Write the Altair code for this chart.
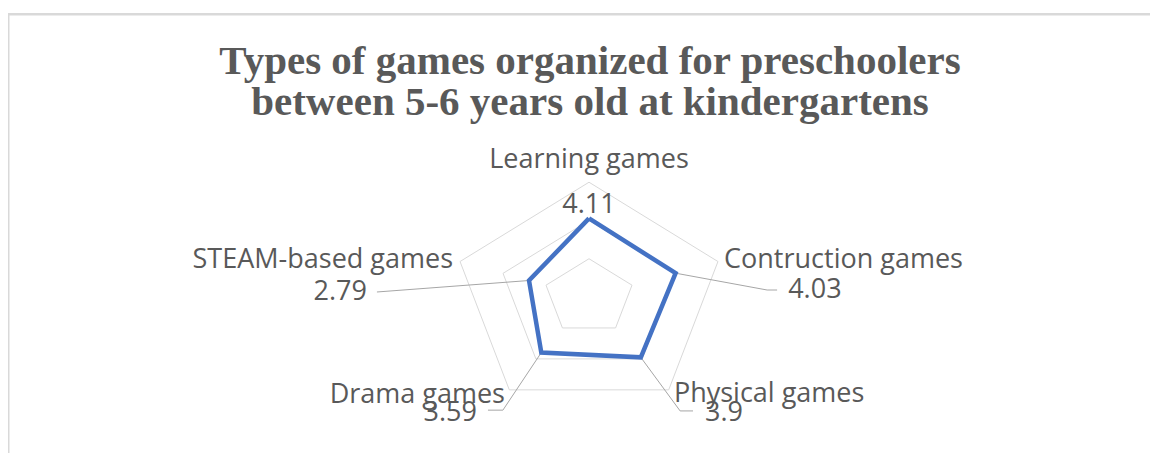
import math
import altair as alt
import pandas as pd

# ---------------- data ----------------
categories = ["Learning games", "Contruction games", "Physical games",
              "Drama games", "STEAM-based games"]
values = [4.11, 4.03, 3.9, 3.59, 2.79]
value_labels = ["4.11", "4.03", "3.9", "3.59", "2.79"]
ring_levels = [2, 4, 6]
title_lines = ["Types of games organized for preschoolers",
               "between 5-6 years old at kindergartens"]

# ---------------- layout ----------------
W, H = 1142, 445
CX, CY = 581, 289          # radar centre inside the view (px)
PX_X, PX_Y = 22.6, 19.13   # px per value unit (horizontal / vertical)
X_DOM = [-CX / PX_X, (W - CX) / PX_X]
Y_DOM = [-(H - CY) / PX_Y, CY / PX_Y]
R_MAX = max(ring_levels)

TEXT_COLOR = "#595959"
GRID_COLOR = "#d9d9d9"
LEADER_COLOR = "#a6a6a6"
LINE_COLOR = "#4472C4"
FONT = "Open Sans"
FS = 27

# category label placement: (align, dx, dy) relative to outer vertex, value units
CAT_LAYOUT = [("center", 0.0, 1.16), ("left", 0.27, 0.08), ("left", 0.23, -0.22),
              ("right", -0.19, -0.27), ("right", -0.31, 0.08)]
# value label placement relative to data point: align, text offset, leader offsets
VAL_LAYOUT = [
    ("center", (0.0, 0.70), []),
    ("left", (4.98, -0.88), [(4.05, -0.88), (4.49, -0.88)]),
    ("left", (2.84, -2.90), [(1.74, -2.80), (2.31, -2.80)]),
    ("right", (-2.85, -3.16), [(-1.70, -3.01), (-2.36, -3.01)]),
    ("right", (-7.17, -0.60), [(-6.73, -0.60)]),
]

n = len(categories)


def polar(r, k):
    a = 2 * math.pi * k / n
    return r * math.sin(a), r * math.cos(a)


rings = []
for lvl in ring_levels:
    for i in range(n + 1):
        x, y = polar(lvl, i % n)
        rings.append({"ring": lvl, "i": i, "x": x, "y": y})
rings = pd.DataFrame(rings)

series = []
for i in range(n + 1):
    x, y = polar(values[i % n], i % n)
    series.append({"i": i, "x": x, "y": y, "cat": categories[i % n]})
series = pd.DataFrame(series)

leaders = []
val_rows = []
cat_rows = []
for k in range(n):
    px, py = polar(values[k], k)
    align, (tx, ty), pts = VAL_LAYOUT[k]
    val_rows.append({"x": px + tx, "y": py + ty, "text": value_labels[k], "align": align})
    if pts:
        leaders.append({"cat": categories[k], "i": 0, "x": px, "y": py})
        for j, (ox, oy) in enumerate(pts):
            leaders.append({"cat": categories[k], "i": j + 1, "x": px + ox, "y": py + oy})
    vx, vy = polar(R_MAX, k)
    a, dx, dy = CAT_LAYOUT[k]
    cat_rows.append({"x": vx + dx, "y": vy + dy, "text": categories[k], "align": a})
leaders = pd.DataFrame(leaders)
val_df = pd.DataFrame(val_rows)
cat_df = pd.DataFrame(cat_rows)

X = alt.X("x:Q", scale=alt.Scale(domain=X_DOM, nice=False, zero=False), axis=None)
Y = alt.Y("y:Q", scale=alt.Scale(domain=Y_DOM, nice=False, zero=False), axis=None)

border_top = alt.Chart(pd.DataFrame({"a": [0]})).mark_rule(
    color=GRID_COLOR, strokeWidth=2.5).encode(
    x=alt.value(0), x2=alt.value(W), y=alt.value(6.3))
border_left = alt.Chart(pd.DataFrame({"a": [0]})).mark_rule(
    color=GRID_COLOR, strokeWidth=3).encode(
    x=alt.value(0), y=alt.value(5), y2=alt.value(H))

grid = alt.Chart(rings).mark_line(color=GRID_COLOR, strokeWidth=1).encode(
    x=X, y=Y, detail="ring:N", order="i:Q")

lead = alt.Chart(leaders).mark_line(color=LEADER_COLOR, strokeWidth=1).encode(
    x=X, y=Y, detail="cat:N", order="i:Q")

line = alt.Chart(series).mark_line(color=LINE_COLOR, strokeWidth=4.5,
                                   strokeJoin="miter").encode(
    x=X, y=Y, order="i:Q")

text_layers = []
for df in (cat_df, val_df):
    for a in ("left", "center", "right"):
        text_layers.append(
            alt.Chart(df).transform_filter(alt.datum.align == a).mark_text(
                align=a, baseline="middle", font=FONT, fontSize=FS,
                color=TEXT_COLOR).encode(x=X, y=Y, text="text:N"))

title = alt.Chart(pd.DataFrame({"a": [0]})).mark_text(
    text=title_lines, font="Liberation Serif", fontWeight="bold", fontSize=41,
    color=TEXT_COLOR, align="center", baseline="alphabetic", lineHeight=41).encode(
    x=alt.value(582), y=alt.value(66))

chart = alt.layer(border_top, border_left, grid, lead, line, *text_layers, title).properties(
    width=W, height=H, autosize=alt.AutoSizeParams(type="none"), padding=0,
    background="white"
).configure_view(stroke=None)

chart.save("out.html", embed_options={"renderer": "svg", "actions": False})
